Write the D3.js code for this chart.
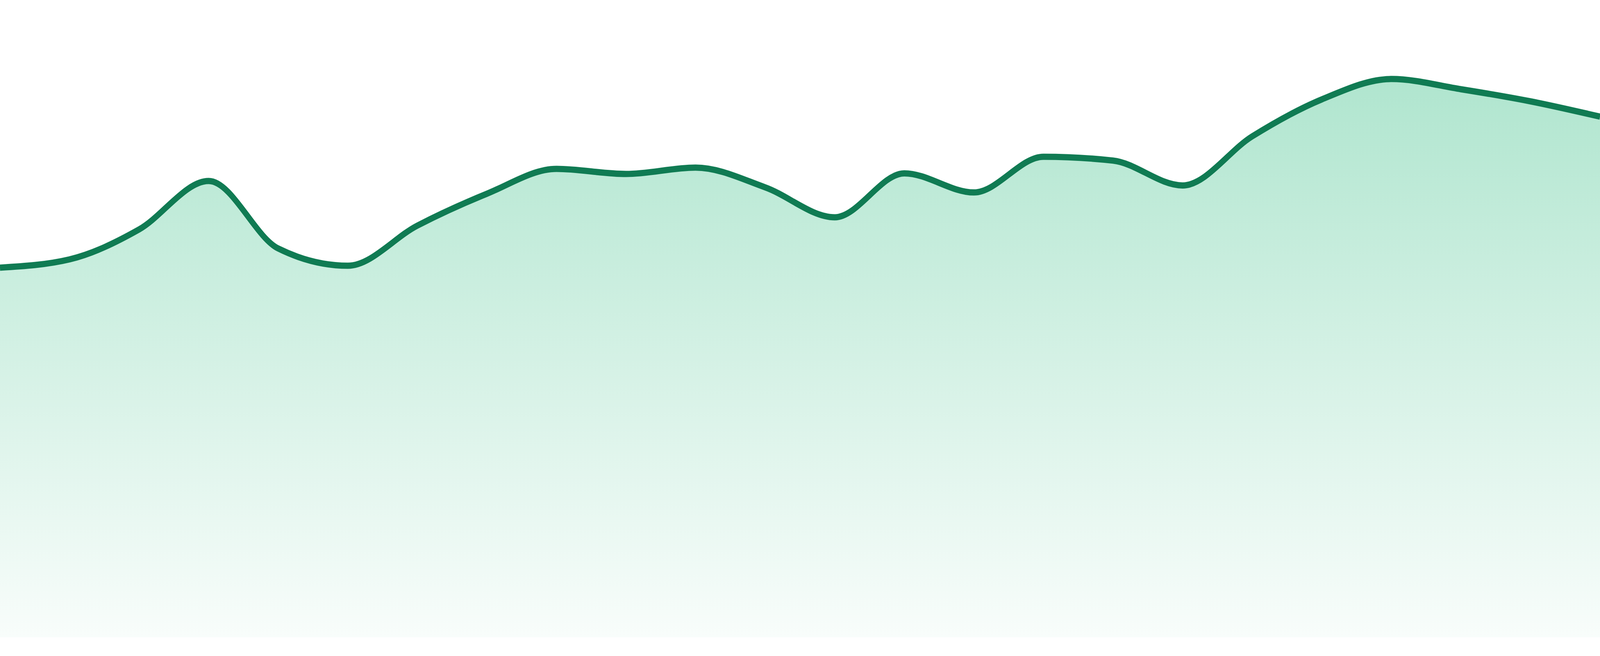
<!DOCTYPE html>
<html>
<head>
<meta charset="utf-8">
<script src="https://cdn.jsdelivr.net/npm/d3@7"></script>
<style>
  html, body { margin: 0; padding: 0; background: #fff; overflow: hidden; }
</style>
</head>
<body>
<div id="chart"></div>
<script>
// data (no axes shown, so the scale is 0-100)
var days = ["D1", "D2", "D3", "D4", "D5", "D6", "D7", "D8", "D9", "D10", "D11", "D12",
            "D13", "D14", "D15", "D16", "D17", "D18", "D19", "D20", "D21", "D22", "D23", "D24"];
var values = [58.0, 59.3, 64.0, 71.6, 61.0, 58.3, 64.6, 69.6, 73.5, 72.7, 73.7, 70.6,
              65.9, 72.8, 69.8, 75.4, 74.8, 70.9, 78.6, 84.4, 87.6, 86.0, 84.1, 81.7];
var yDomain = [0, 100];

// chart is drawn in a 4800x1680 frame and stretched to whatever the window is
var svgWidth = 4800;
var svgHeight = 1680;
var margin = { top: 0, right: 0, bottom: 48, left: 0 };

var width = svgWidth - margin.left - margin.right;
var height = svgHeight - margin.top - margin.bottom;

var data = days.map(function(d, i) {
    return { day: d, value: values[i] };
});

var svg = d3.select("#chart")
    .append("svg")
    .attr("width", window.innerWidth || svgWidth)
    .attr("height", window.innerHeight || svgHeight)
    .attr("viewBox", "0 0 " + svgWidth + " " + svgHeight)
    .attr("preserveAspectRatio", "none")
    .style("display", "block");

var chartGroup = svg.append("g")
    .attr("transform", `translate(${margin.left}, ${margin.top})`);

var x = d3.scalePoint()
    .domain(days)
    .range([0, width]);

var y = d3.scaleLinear()
    .domain(yDomain)
    .range([height, 0]);

// fading green fill
var grad = svg.append("defs")
    .append("linearGradient")
    .attr("id", "fade")
    .attr("x1", 0).attr("y1", 0)
    .attr("x2", 0).attr("y2", 1);

grad.append("stop")
    .attr("offset", "0%")
    .attr("stop-color", "#23b879")
    .attr("stop-opacity", 0.36);

grad.append("stop")
    .attr("offset", "100%")
    .attr("stop-color", "#23b879")
    .attr("stop-opacity", 0.03);

var area = d3.area()
    .x(function(d) { return x(d.day); })
    .y0(y(0))
    .y1(function(d) { return y(d.value); })
    .curve(d3.curveMonotoneX);

var line = d3.line()
    .x(function(d) { return x(d.day); })
    .y(function(d) { return y(d.value); })
    .curve(d3.curveMonotoneX);

chartGroup.append("path")
    .datum(data)
    .attr("d", area)
    .attr("fill", "url(#fade)");

chartGroup.append("path")
    .datum(data)
    .attr("d", line)
    .attr("fill", "none")
    .attr("stroke", "#107b53")
    .attr("stroke-width", 16)
    .attr("stroke-linejoin", "round");
</script>
</body>
</html>
